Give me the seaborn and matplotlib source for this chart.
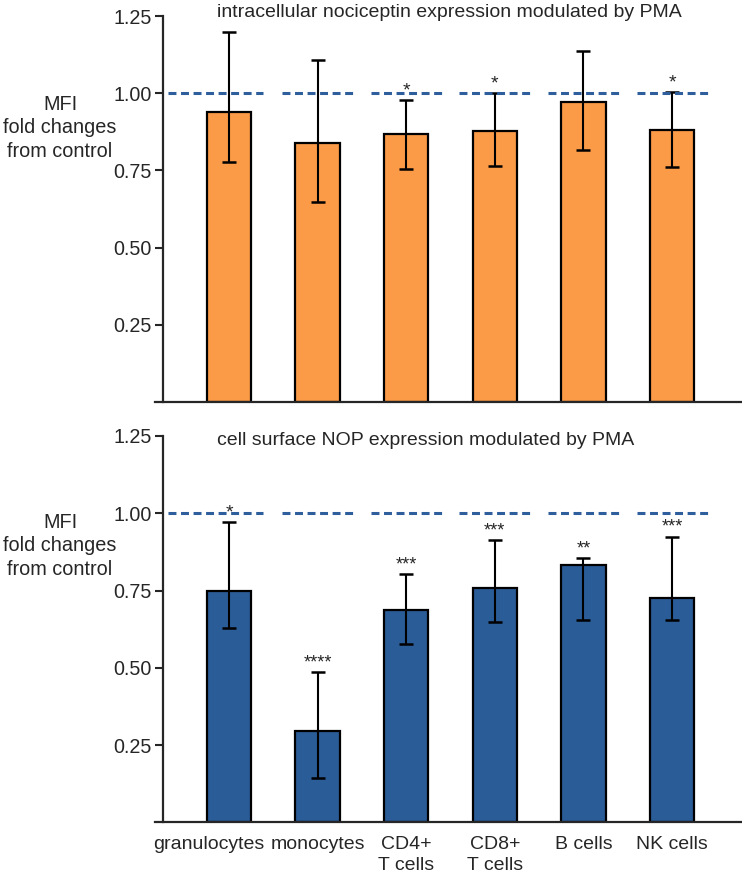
import matplotlib.pyplot as plt
import matplotlib.transforms as mtransforms
import numpy as np
import pandas as pd
import seaborn as sns

# cell populations
cells = ["granulocytes", "monocytes", "CD4+\nT cells", "CD8+\nT cells", "B cells", "NK cells"]

# intracellular nociceptin (top panel)
noci_mean = [0.94, 0.84, 0.869, 0.877, 0.971, 0.882]
noci_low = [0.777, 0.649, 0.756, 0.765, 0.815, 0.761]
noci_high = [1.197, 1.109, 0.978, 1.000, 1.137, 1.003]
noci_stars = ["", "", "*", "*", "", "*"]

# cell surface NOP (bottom panel)
nop_mean = [0.750, 0.295, 0.688, 0.758, 0.831, 0.727]
nop_low = [0.629, 0.143, 0.577, 0.649, 0.656, 0.656]
nop_high = [0.971, 0.486, 0.802, 0.912, 0.854, 0.924]
nop_stars = ["*", "****", "***", "***", "**", "***"]

control = 1.0
yticks = [0.25, 0.50, 0.75, 1.00, 1.25]

ORANGE = "#FB9B48"
BLUE = "#2A5C98"
DASH = "#2F5E9C"

sns.set_style("ticks")
plt.rcParams["font.family"] = ["Liberation Sans", "DejaVu Sans"]

fig = plt.figure(figsize=(7.42, 8.76), dpi=100)
W, H = 742, 876
ax_top = fig.add_axes([163 / W, 1 - 402 / H, 579 / W, 386 / H])
ax_bot = fig.add_axes([163 / W, 1 - 822.3 / H, 579 / W, 386.3 / H])


def draw_panel(ax, mean, low, high, stars, color, title, title_x, title_y, label_y):
    df = pd.DataFrame({"cell": cells, "value": mean})
    sns.barplot(data=df, x="cell", y="value", color=color, saturation=1,
                edgecolor="black", linewidth=1.6, width=0.5, errorbar=None, ax=ax)
    x = np.arange(len(cells))
    m = np.array(mean)
    yerr = [m - np.array(low), np.array(high) - m]
    ax.errorbar(x, m, yerr=yerr, fmt="none", ecolor="black", elinewidth=1.5,
                capsize=5, capthick=1.8, zorder=4)

    # control reference (dashed) for each population
    for i in x:
        x0, x1 = (i - 0.69, i + 0.38) if i == 0 else (i - 0.4, i + 0.41)
        ax.plot([x0, x1], [control, control], ls=(0, (2.6, 1.5)), color=DASH,
                lw=2.2, zorder=5)

    for i, s in enumerate(stars):
        if s:
            ax.text(i, high[i] + 0.003, s, ha="center", va="bottom",
                    fontsize=14 if len(s) == 1 else 13, zorder=6)

    ax.set_xlim(-0.745, 5.79)
    ax.set_ylim(0, 1.25)
    ax.set_yticks(yticks)
    ax.set_yticklabels([f"{t:.2f}" for t in yticks], fontsize=14.2)
    ax.tick_params(axis="y", length=6, width=1.5, pad=2)
    ax.tick_params(axis="x", length=0)
    for sp in ["top", "right"]:
        ax.spines[sp].set_visible(False)
    for sp in ["left", "bottom"]:
        ax.spines[sp].set_linewidth(1.6)
    ax.spines["bottom"].set_bounds(-0.84, 5.79)
    ax.set_xlabel("")
    ax.set_ylabel("MFI\nfold changes\nfrom control", rotation=0, fontsize=14.3,
                  ha="center", va="center", linespacing=1.3)
    ax.yaxis.set_label_coords(-0.178, label_y)
    ax.text(title_x, title_y, title, transform=ax.transAxes, ha="center",
            va="center", fontsize=14)


draw_panel(ax_top, noci_mean, noci_low, noci_high, noci_stars, ORANGE,
           "intracellular nociceptin expression modulated by PMA", 0.494, 1.01, 0.71)
draw_panel(ax_bot, nop_mean, nop_low, nop_high, nop_stars, BLUE,
           "cell surface NOP expression modulated by PMA", 0.454, 0.988, 0.716)

ax_top.set_xticklabels([])
ax_bot.set_xticks(range(len(cells)))
ax_bot.set_xticklabels(cells, fontsize=14, linespacing=1.3, va="top")
ax_bot.tick_params(axis="x", pad=10)
# nudge the first label left so it clears its neighbour
lbl = ax_bot.get_xticklabels()[0]
lbl.set_transform(lbl.get_transform() + mtransforms.ScaledTranslation(-20 / 100, 0, fig.dpi_scale_trans))

fig.savefig("out.png", dpi=100)
